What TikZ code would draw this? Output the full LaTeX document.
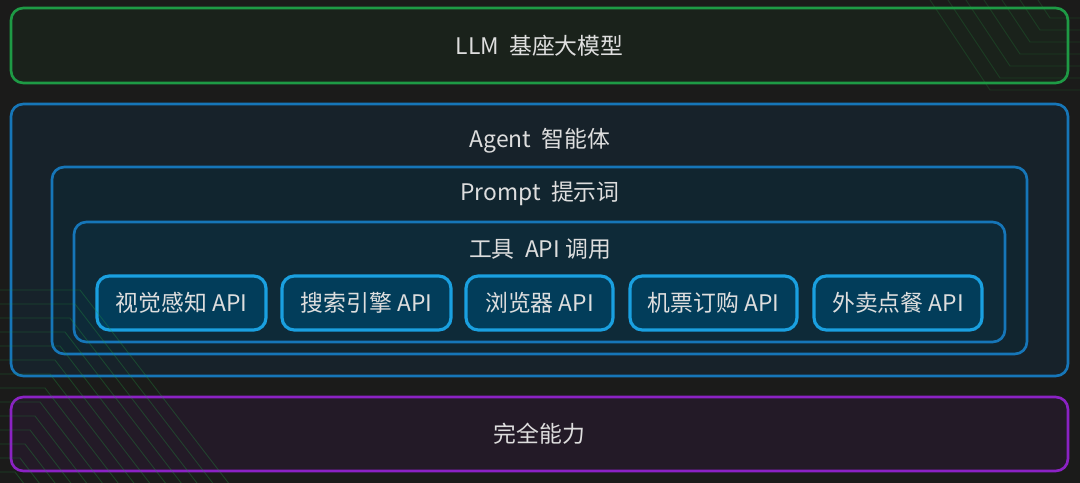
\documentclass[tikz,border=0pt]{standalone}
\usepackage{fontspec}
\setmainfont{Noto Sans CJK SC}
\usetikzlibrary{positioning}
\definecolor{bgdark}{HTML}{1B1B1A}
\definecolor{llmfill}{HTML}{1A221B}
\definecolor{llmline}{HTML}{1E9A45}
\definecolor{agentfill}{HTML}{17222A}
\definecolor{agentline}{HTML}{1676B8}
\definecolor{promptfill}{HTML}{11252F}
\definecolor{toolfill}{HTML}{0E2A38}
\definecolor{apifill}{HTML}{023D5A}
\definecolor{apiline}{HTML}{1AA0E0}
\definecolor{powerfill}{HTML}{231A27}
\definecolor{powerline}{HTML}{8B22C4}
\definecolor{labeltext}{HTML}{DEDEDE}
\definecolor{wire}{HTML}{22A040}

\newlength{\pxu}
\setlength{\pxu}{0.02cm}
\tikzset{
  layer/.style={draw=#1, line width=1.5pt, rounded corners=7pt},
  caption/.style={text=labeltext, font=\fontsize{13pt}{15pt}\selectfont, inner sep=0pt},
  apibox/.style={draw=apiline, fill=apifill, line width=1.8pt, rounded corners=7pt,
    minimum height=54\pxu, text=labeltext, font=\fontsize{13pt}{15pt}\selectfont},
  wireline/.style={wire, opacity=0.3, line width=0.5pt},
}

\begin{document}
\begin{tikzpicture}[x=0.02cm,y=-0.02cm]
                % Background
                \fill[bgdark] (0,0) rectangle (1080,483);
                \useasboundingbox (0,0) rectangle (1080,483);

                % LLM layer
                \node[layer=llmline, fill=llmfill, minimum width=1057\pxu, minimum height=75\pxu]
                  (llm) at (539.5,45.5) {};
                \node[caption] (llmtext) at (llm.center) {LLM\ \ 基座大模型};

                % Agent layer
                \node[layer=agentline, fill=agentfill, minimum width=1057\pxu, minimum height=272\pxu]
                  (agent) at (539.5,240) {};
                \node[caption] (agenttext) at (540,141) {Agent\ \ 智能体};

                % Prompt layer
                \node[layer=agentline, fill=promptfill, minimum width=975\pxu, minimum height=187\pxu]
                  (prompt) at (539.5,260.5) {};
                \node[caption] (prompttext) at (540,194) {Prompt\ \ 提示词};

                % Tool layer
                \node[layer=agentline, fill=toolfill, minimum width=931\pxu, minimum height=120\pxu]
                  (tools) at (539.5,282) {};
                \node[caption] (toolstext) at (540,249) {工具\ \ API\ 调用};

                % API boxes
                \node[apibox, minimum width=169\pxu] (vision) at (181.5,303) {视觉感知\ API};
                \node[apibox, minimum width=169\pxu] (search) at (366.5,303) {搜索引擎\ API};
                \node[apibox, minimum width=147\pxu] (browser) at (539.5,303) {浏览器\ API};
                \node[apibox, minimum width=167\pxu] (ticket) at (713.5,303) {机票订购\ API};
                \node[apibox, minimum width=168\pxu] (food) at (898,303) {外卖点餐\ API};

                % Power layer
                \node[layer=powerline, fill=powerfill, minimum width=1057\pxu, minimum height=74\pxu]
                  (power) at (539.5,434) {};
                \node[caption] (powertext) at (power.center) {完全能力};

                % Circuit wires
                \foreach \i in {0,...,13}{
                  \draw[wireline]
                    (0,{290+14*\i}) -- ({80-5*\i},{290+14*\i}) -- ({80-5*\i+150},{290+14*\i+195});
                }
                \foreach \i in {0,...,6}{
                  \draw[wireline, opacity=0.22]
                    (1080,{18+12*\i}) -- ({1050-10*\i},{18+12*\i}) -- ({1050-10*\i-60},{18+12*\i-90});
                }
            \end{tikzpicture}
\end{document}
